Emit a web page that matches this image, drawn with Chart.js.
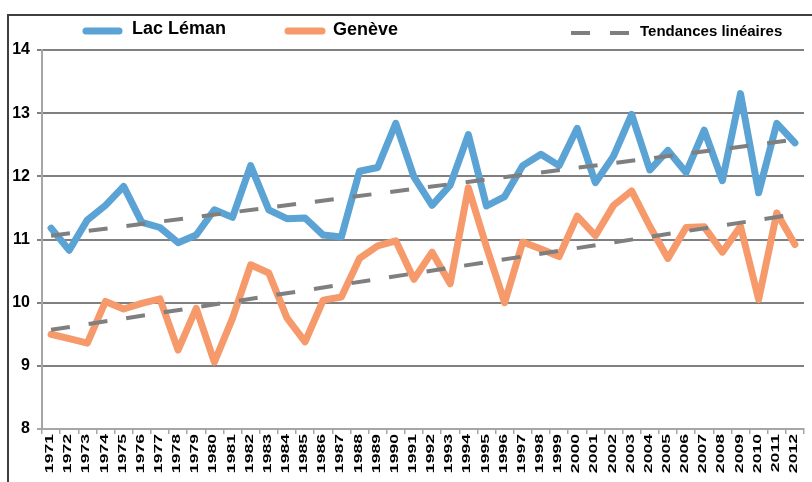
<!DOCTYPE html>
<html>
<head>
<meta charset="utf-8">
<script src="https://cdn.jsdelivr.net/npm/chart.js@4"></script>
<style>
  html, body { margin: 0; padding: 0; background: #fff; }
  canvas { display: block; }
</style>
</head>
<body>
<canvas id="chart" width="812" height="482"></canvas>
<script>
const years = [
  "1971","1972","1973","1974","1975","1976","1977","1978","1979","1980",
  "1981","1982","1983","1984","1985","1986","1987","1988","1989","1990",
  "1991","1992","1993","1994","1995","1996","1997","1998","1999","2000",
  "2001","2002","2003","2004","2005","2006","2007","2008","2009","2010",
  "2011","2012"
];
const leman = [
  11.18, 10.83, 11.31, 11.54, 11.84, 11.27, 11.19, 10.95, 11.07, 11.47,
  11.35, 12.17, 11.47, 11.33, 11.34, 11.07, 11.04, 12.08, 12.14, 12.84,
  11.99, 11.54, 11.86, 12.66, 11.53, 11.68, 12.17, 12.35, 12.17, 12.76,
  11.90, 12.32, 12.98, 12.10, 12.41, 12.06, 12.73, 11.93, 13.31, 11.74,
  12.84, 12.53
];
const geneve = [
  9.50, 9.43, 9.36, 10.02, 9.90, 9.99, 10.06, 9.25, 9.91, 9.06,
  9.75, 10.60, 10.47, 9.76, 9.38, 10.04, 10.09, 10.70, 10.90, 10.98,
  10.37, 10.80, 10.30, 11.82, 10.88, 10.00, 10.96, 10.85, 10.73, 11.37,
  11.06, 11.54, 11.77, 11.21, 10.70, 11.19, 11.20, 10.80, 11.21, 10.05,
  11.42, 10.92
];
// linear trends: value at first and last year
const trendLeman = [11.06, 12.58];
const trendGeneve = [9.57, 11.40];
const yTicks = [8, 9, 10, 11, 12, 13, 14];

const blue = "#5aa3d4";
const orange = "#f6996b";
const grey = "#7f7f7f";

// only the two ends, the library draws the straight line between them
function ends(pair) {
  return years.map((y, i) => i === 0 ? pair[0] : (i === years.length - 1 ? pair[1] : null));
}

// frame + legend + stretched year labels
const decor = {
  id: "decor",
  afterDraw(chart) {
    const ctx = chart.ctx;
    ctx.save();
    // outer frame
    ctx.strokeStyle = "#3f3f3f";
    ctx.lineWidth = 2;
    ctx.beginPath();
    ctx.moveTo(8, 482);
    ctx.lineTo(8, 15);
    ctx.lineTo(812, 15);
    ctx.stroke();

    // legend
    ctx.lineCap = "round";
    ctx.lineWidth = 7;
    ctx.strokeStyle = blue;
    ctx.beginPath(); ctx.moveTo(86, 31); ctx.lineTo(119, 31); ctx.stroke();
    ctx.strokeStyle = orange;
    ctx.beginPath(); ctx.moveTo(288, 31); ctx.lineTo(322, 31); ctx.stroke();
    ctx.lineCap = "butt";
    ctx.lineWidth = 4;
    ctx.strokeStyle = grey;
    ctx.beginPath();
    ctx.moveTo(571, 33); ctx.lineTo(590, 33);
    ctx.moveTo(610, 33); ctx.lineTo(629, 33);
    ctx.stroke();

    ctx.fillStyle = "#000";
    ctx.textBaseline = "middle";
    ctx.textAlign = "left";
    ctx.font = "bold 18px 'Liberation Sans', Arial, sans-serif";
    ctx.fillText("Lac Léman", 132, 29);
    ctx.fillText("Genève", 333, 30);
    ctx.font = "bold 15px 'Liberation Sans', Arial, sans-serif";
    ctx.fillText("Tendances linéaires", 640, 32);

    // year labels, rotated and stretched
    const xs = chart.scales.x;
    ctx.font = "bold 11px 'Liberation Sans', Arial, sans-serif";
    ctx.textAlign = "right";
    ctx.textBaseline = "middle";
    years.forEach((lab, i) => {
      const px = xs.getPixelForTick(i);
      ctx.save();
      ctx.translate(px - 1, 434);
      ctx.rotate(-Math.PI / 2);
      ctx.scale(1.6, 1);
      ctx.fillText(lab, 0, 0);
      ctx.restore();
    });
    ctx.restore();
  }
};

new Chart(document.getElementById("chart"), {
  type: "line",
  data: {
    labels: years,
    datasets: [
      {
        label: "Lac Léman",
        data: leman,
        borderColor: blue,
        borderWidth: 7,
        borderJoinStyle: "round",
        borderCapStyle: "round",
        pointRadius: 0,
        tension: 0,
        order: 2
      },
      {
        label: "Genève",
        data: geneve,
        borderColor: orange,
        borderWidth: 7,
        borderJoinStyle: "round",
        borderCapStyle: "round",
        pointRadius: 0,
        tension: 0,
        order: 2
      },
      {
        label: "Tendances linéaires",
        data: ends(trendLeman),
        spanGaps: true,
        borderColor: grey,
        borderWidth: 4,
        borderDash: [19, 19],
        pointRadius: 0,
        order: 0
      },
      {
        label: "Tendance Genève",
        data: ends(trendGeneve),
        spanGaps: true,
        borderColor: grey,
        borderWidth: 4,
        borderDash: [19, 19],
        pointRadius: 0,
        order: 0
      }
    ]
  },
  options: {
    responsive: false,
    animation: false,
    layout: { padding: { top: 50, right: 8, left: 0, bottom: 0 } },
    scales: {
      x: {
        offset: true,
        grid: {
          display: true,
          offset: true,
          drawOnChartArea: false,
          drawTicks: true,
          tickLength: 5,
          color: "#a6a6a6",
          lineWidth: 1.5
        },
        border: { display: true, color: "#a6a6a6", width: 2 },
        ticks: { display: false },
        afterFit(scale) { scale.height = 53; }
      },
      y: {
        min: 8,
        max: 14,
        afterBuildTicks(scale) { scale.ticks = yTicks.map(v => ({ value: v })); },
        grid: {
          color: ctx => ctx.tick && ctx.tick.value === 8 ? "#a6a6a6" : "#808080",
          lineWidth: 2,
          tickLength: 5
        },
        border: { display: true, color: "#a6a6a6", width: 2 },
        ticks: {
          color: "#000",
          padding: 7,
          font: { family: "'Liberation Sans', Arial, sans-serif", size: 16, weight: "bold" }
        },
        afterFit(scale) { scale.width = 42; }
      }
    },
    plugins: {
      legend: { display: false },
      tooltip: { enabled: false }
    }
  },
  plugins: [decor]
});
</script>
</body>
</html>
